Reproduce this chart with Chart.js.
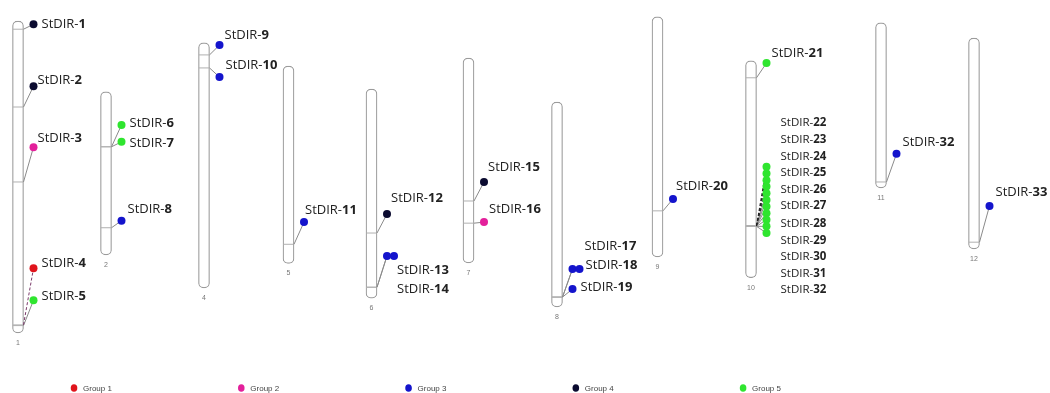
<!DOCTYPE html>
<html>
<head>
<meta charset="utf-8">
<script src="https://cdn.jsdelivr.net/npm/chart.js@4.4.1/dist/chart.umd.min.js"></script>
<style>
  html, body { margin: 0; padding: 0; background: #fff; }
  #wrap { width: 1050px; height: 393px; position: relative; }
</style>
</head>
<body>
<div id="wrap"><canvas id="c"></canvas></div>
<script>
// ---- Data: chromosomes and StDIR gene loci (Mb) ----
const chromosomes = ['1', '2', '4', '5', '6', '7', '8', '9', '10', '11', '12'];
const chromLengthMb = [88.6, 46.3, 69.6, 56.0, 59.4, 58.2, 58.2, 68.2, 61.6, 46.9, 59.9];

const geneNames = [
  'StDIR-1', 'StDIR-2', 'StDIR-3', 'StDIR-4', 'StDIR-5',
  'StDIR-6', 'StDIR-7', 'StDIR-8',
  'StDIR-9', 'StDIR-10',
  'StDIR-11',
  'StDIR-12', 'StDIR-13', 'StDIR-14',
  'StDIR-15', 'StDIR-16',
  'StDIR-17', 'StDIR-18', 'StDIR-19',
  'StDIR-20',
  'StDIR-21', 'StDIR-22', 'StDIR-23', 'StDIR-24', 'StDIR-25', 'StDIR-26',
  'StDIR-27', 'StDIR-28', 'StDIR-29', 'StDIR-30', 'StDIR-31', 'StDIR-32',
  'StDIR-32',
  'StDIR-33'
];
const geneChrom = [
  '1', '1', '1', '1', '1',
  '2', '2', '2',
  '4', '4',
  '5',
  '6', '6', '6',
  '7', '7',
  '8', '8', '8',
  '9',
  '10', '10', '10', '10', '10', '10', '10', '10', '10', '10', '10', '10',
  '11',
  '12'
];
const geneLocusMb = [
  2.3, 24.4, 45.7, 86.3, 86.5,
  15.6, 15.6, 38.6,
  3.4, 7.1,
  50.6,
  40.9, 56.3, 56.3,
  40.6, 46.9,
  55.4, 55.4, 55.4,
  55.1,
  4.8, 46.8, 46.8, 46.8, 46.9, 46.9, 46.9, 46.9, 46.9, 47.0, 47.0, 47.0,
  45.2,
  58.0
];
const geneGroup = [
  4, 4, 2, 1, 5,
  5, 5, 3,
  3, 3,
  3,
  4, 3, 3,
  4, 2,
  3, 3, 3,
  3,
  5, 5, 5, 5, 5, 5, 5, 5, 5, 5, 5, 5,
  3,
  3
];
const groupNames = ['Group 1', 'Group 2', 'Group 3', 'Group 4', 'Group 5'];
const groupColors = ['#e0141c', '#e3209b', '#1414cc', '#0b0b30', '#2fe52f'];

// ---- Layout: chromosome columns, vertical stagger and label placement ----
const chromColumn = [1.8, 10.6, 20.4, 28.85, 37.15, 46.85, 55.7, 65.75, 75.1, 88.1, 97.4];
const chromTopMb = [6.0, 26.1, 12.2, 18.8, 25.3, 16.5, 29.0, 4.8, 17.3, 6.5, 10.8];
const geneDotMb = [
  0.9, 18.5, 35.8, 70.2, 79.3,
  9.4, 14.2, 36.6,
  0.6, 9.7,
  44.3,
  35.5, 47.4, 47.4,
  35.2, 46.6,
  47.4, 47.4, 53.1,
  51.7,
  0.6, 30.1, 32.0, 33.9, 35.7, 37.6, 39.5, 41.4, 43.3, 45.1, 47.0, 48.9,
  37.2,
  47.7
];
const geneDotLane = geneNames.map((n, i) => (i === 13 || i === 17) ? 1 : 0);
const labelDx = [8, 4, 4, 8, 8, 8, 8, 6, 5, 6, 1, 4, 10, 3, 4, 5, 12, 6, 8, 3, 5,
  14, 14, 14, 14, 14, 14, 14, 14, 14, 14, 14, 6, 6];
const labelDy = [0, -6, -9, -5, -4, -2, 1, -11, -10, -12, -12, -16, 14, 33, -15, -13, -23, -4, -2, -13, -10,
  -44, -34, -24, -14, -4, 6, 17, 27, 37, 47, 57, -12, -14];
const labelSize = geneNames.map((n, i) => (i >= 21 && i <= 31) ? 11.5 : 13);
const connectorStyle = geneNames.map((n, i) => {
  if (i === 3) return { color: '#7a3a6a', dash: [3, 2] };
  if (i >= 21 && i <= 24) return { color: '#222', dash: [3, 2] };
  return { color: '#8a8a8a', dash: [] };
});

const PX_PER_MB = 3.52;
const DOT_OFFSET = [1.55, 2.25];
const EDGE_OFFSET = 0.55;

const chromIndex = c => chromosomes.indexOf(c);
const dotX = i => chromColumn[chromIndex(geneChrom[i])] + DOT_OFFSET[geneDotLane[i]];
const dotY = i => chromTopMb[chromIndex(geneChrom[i])] + geneDotMb[i];
const locusY = i => chromTopMb[chromIndex(geneChrom[i])] + geneLocusMb[i];

// Chromosome bodies as floating bars
const chromDataset = {
  type: 'bar',
  order: 10,
  data: chromosomes.map((c, i) => ({ x: chromColumn[i], y: [chromTopMb[i], chromTopMb[i] + chromLengthMb[i]] })),
  backgroundColor: '#ffffff',
  borderColor: '#9b9b9b',
  borderWidth: 1.2,
  borderSkipped: false,
  borderRadius: 5,
  barThickness: 11,
  grouped: false
};

// Locus ticks across each chromosome
const tickDataset = {
  type: 'scatter',
  order: 8,
  data: geneNames.map((n, i) => ({ x: chromColumn[chromIndex(geneChrom[i])], y: locusY(i) })),
  pointStyle: 'line',
  pointRadius: 5.2,
  borderColor: '#b0b0b0',
  borderWidth: 1,
  clip: false
};

// Connectors from locus to label dot
const connectorDatasets = geneNames.map((n, i) => {
  const ci = chromIndex(geneChrom[i]);
  return {
    type: 'line',
    order: 5,
    data: [
      { x: chromColumn[ci] + EDGE_OFFSET, y: locusY(i) },
      { x: chromColumn[ci] + DOT_OFFSET[0], y: dotY(i) }
    ],
    borderColor: connectorStyle[i].color,
    borderDash: connectorStyle[i].dash,
    borderWidth: 1,
    pointRadius: 0,
    clip: false
  };
});

// Gene dots, one dataset per group
const dotDatasets = groupNames.map((g, gi) => ({
  type: 'scatter',
  order: 1,
  label: g,
  data: geneNames.map((n, i) => i).filter(i => geneGroup[i] === gi + 1).map(i => ({ x: dotX(i), y: dotY(i) })),
  backgroundColor: groupColors[gi],
  borderWidth: 0,
  pointRadius: 4,
  clip: false
}));

const labelsPlugin = {
  id: 'mapLabels',
  afterDatasetsDraw(chart) {
    const { ctx, scales: { x, y } } = chart;
    ctx.save();
    // chromosome numbers under each bar
    ctx.font = '7px "Liberation Sans", Arial, sans-serif';
    ctx.fillStyle = '#777';
    ctx.textAlign = 'center';
    ctx.textBaseline = 'middle';
    chromosomes.forEach((c, i) => {
      ctx.fillText(c, x.getPixelForValue(chromColumn[i]), y.getPixelForValue(chromTopMb[i] + chromLengthMb[i]) + 10);
    });
    // gene names: prefix regular, number bold
    ctx.textAlign = 'left';
    geneNames.forEach((name, i) => {
      const px = x.getPixelForValue(dotX(i)) + labelDx[i];
      const py = y.getPixelForValue(dotY(i)) + labelDy[i];
      const cut = name.lastIndexOf('-') + 1;
      const pre = name.slice(0, cut), num = name.slice(cut);
      const size = labelSize[i];
      ctx.fillStyle = '#222';
      ctx.font = `${size}px "Open Sans", sans-serif`;
      ctx.fillText(pre, px, py);
      const w = ctx.measureText(pre).width;
      ctx.font = `bold ${size}px "Open Sans", sans-serif`;
      ctx.fillText(num, px + w, py);
    });
    ctx.restore();
  },
  afterDraw(chart) {
    const { ctx, width } = chart;
    ctx.save();
    ctx.font = '8px "Liberation Sans", Arial, sans-serif';
    ctx.textBaseline = 'middle';
    ctx.textAlign = 'left';
    groupNames.forEach((g, gi) => {
      const cx = width * (0.0705 + gi * 0.1593);
      const cy = 388;
      ctx.beginPath();
      ctx.fillStyle = groupColors[gi];
      ctx.ellipse(cx, cy, 3.3, 3.8, 0, 0, Math.PI * 2);
      ctx.fill();
      ctx.fillStyle = '#444';
      ctx.fillText(g, cx + 9, cy + 0.5);
    });
    ctx.restore();
  }
};

new Chart(document.getElementById('c'), {
  type: 'bar',
  data: { datasets: [chromDataset, tickDataset, ...connectorDatasets, ...dotDatasets] },
  options: {
    responsive: true,
    maintainAspectRatio: false,
    devicePixelRatio: 1,
    animation: false,
    layout: { padding: 0, autoPadding: false },
    plugins: { legend: { display: false }, tooltip: { enabled: false } },
    scales: {
      x: { type: 'linear', min: 0, max: 105, offset: false, display: false },
      y: { type: 'linear', min: 0, max: 393 / PX_PER_MB, reverse: true, display: false }
    }
  },
  plugins: [labelsPlugin]
});
</script>
</body>
</html>
